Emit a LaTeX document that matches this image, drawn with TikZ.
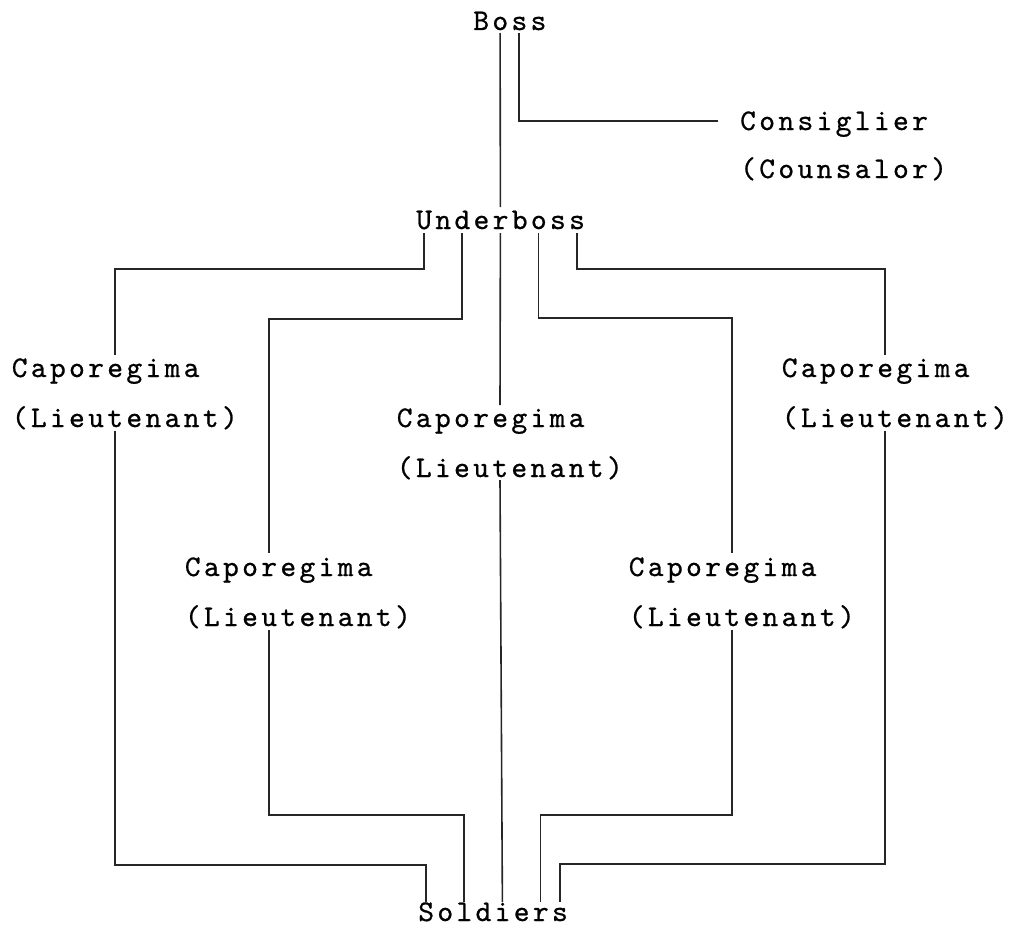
\documentclass[tikz,border=0pt]{standalone}
\usepackage{fontspec}
\usepackage{tikz}
\usetikzlibrary{calc}
\newfontfamily\typewr{lmmono10-regular.otf}[LetterSpace=11.2,FakeBold=0.7]
\tikzset{rank/.style={
         font=\typewr\fontsize{30}{50}\selectfont,inner sep=0pt,anchor=base west,align=left}}
\tikzset{link/.style={
         draw=black!85,line width=1.6pt}}
\newcommand\cx[1]{#1*19.1+7.9}

\begin{document}
\begin{tikzpicture}[x=1pt,y=-1pt]
\useasboundingbox (0,0) rectangle (1010,926);

% 上层
\node (boss) at (473.1,30) [rank] {Boss};
\node (consig) at (740,178) [rank] {Consiglier\\[-2pt](Counsalor)};
\node (ub) at (416.1,229) [rank] {Underboss};

% Caporegima
\node (capL) at (11.6,427) [rank] {Caporegima\\(Lieutenant)};
\node (capR) at (781.6,427) [rank] {Caporegima\\(Lieutenant)};
\node (capC) at (396.6,477) [rank] {Caporegima\\(Lieutenant)};
\node (capLL) at (184.7,626) [rank] {Caporegima\\(Lieutenant)};
\node (capLR) at (628.6,626) [rank] {Caporegima\\(Lieutenant)};

% 下层
\node (sold) at (418.1,921) [rank] {Soldiers};

% Boss
\draw [link] ($(boss.base west)+(\cx{1},3)$) -- ($(ub.base west)+(\cx{4},-22)$);
\draw [link] ($(boss.base west)+(\cx{2},3)$) |- ($(consig.base west)+(-22,-57)$);

% Underboss
\draw [link] ($(ub.base west)+(\cx{0},4)$) -- ++(0,36) -| ($(capL.base west)+(\cx{5},-72)$);
\draw [link] ($(ub.base west)+(\cx{2},4)$) -- ++(0,86) -| ($(capLL.base west)+(\cx{4},-73)$);
\draw [link] ($(ub.base west)+(\cx{4},4)$) -- ($(capC.base west)+(\cx{5},-72)$);
\draw [link] ($(ub.base west)+(\cx{6},4)$) -- ++(0,85) -| ($(capLR.base west)+(\cx{5},-73)$);
\draw [link] ($(ub.base west)+(\cx{8},4)$) -- ++(0,36) -| ($(capR.base west)+(\cx{5},-72)$);

% Soldiers
\draw [link] ($(capL.base west)+(\cx{5},4)$) -- ++(0,434) -| ($(sold.base west)+(\cx{0},-19)$);
\draw [link] ($(capLL.base west)+(\cx{4},4)$) -- ++(0,185) -| ($(sold.base west)+(\cx{2},-19)$);
\draw [link] ($(capC.base west)+(\cx{5},3)$) -- ($(sold.base west)+(\cx{4},-19)$);
\draw [link] ($(capLR.base west)+(\cx{5},4)$) -- ++(0,185) -| ($(sold.base west)+(\cx{6},-19)$);
\draw [link] ($(capR.base west)+(\cx{5},4)$) -- ++(0,433) -| ($(sold.base west)+(\cx{7},-19)$);

\end{tikzpicture}
\end{document}
